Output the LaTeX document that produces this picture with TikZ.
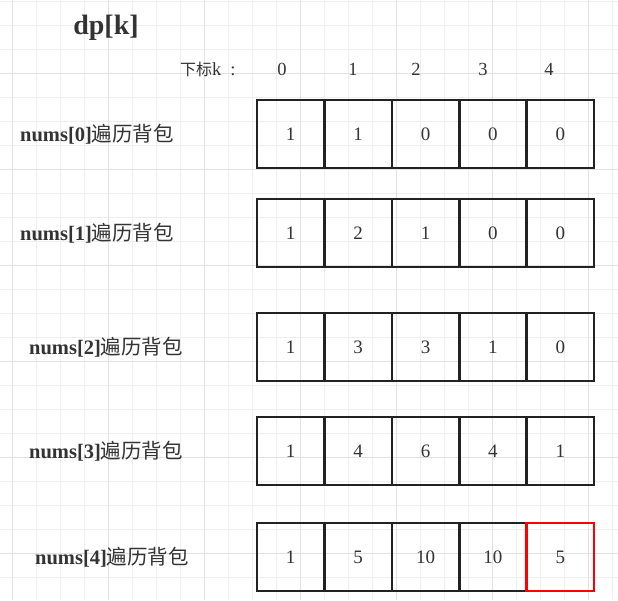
\documentclass[tikz,border=0pt]{standalone}
\usepackage{fontspec}
\setmainfont{Liberation Serif}
\newfontfamily\cjk{Noto Sans CJK SC}
\definecolor{txt}{HTML}{333333}
\definecolor{gridminor}{HTML}{EEEEEE}
\definecolor{gridmajor}{HTML}{E2E2E2}
\definecolor{cellline}{HTML}{222222}
\definecolor{hl}{HTML}{FF0000}
\tikzset{
  cellbox/.style={draw=cellline, line width=2.6pt, minimum width=67.4pt, minimum height=68pt,
    inner sep=0pt, outer sep=0pt, anchor=north west, text=txt, font=\fontsize{19}{21}\selectfont},
  hlbox/.style={cellbox, draw=hl},
  rowlabel/.style={anchor=west, inner sep=0pt, text=txt, font=\fontsize{20.5}{23}\selectfont},
  idxlabel/.style={inner sep=0pt, text=txt, font=\fontsize{18.5}{20}\selectfont},
}
\begin{document}
\begin{tikzpicture}[x=1pt,y=-1pt]
\useasboundingbox (0,0) rectangle (618,600);
\fill[white] (0,0) rectangle (618,600);
% grid
\foreach \gx in {12,36,...,612} \draw[gridminor, line width=1pt] (\gx,0) -- (\gx,600);
\foreach \gy in {1,25,...,600} \draw[gridminor, line width=1pt] (0,\gy) -- (618,\gy);
\foreach \gx in {12,108,...,612} \draw[gridmajor, line width=1pt] (\gx,0) -- (\gx,600);
\foreach \gy in {73,169,...,600} \draw[gridmajor, line width=1pt] (0,\gy) -- (618,\gy);
% title
\node[inner sep=0pt, text=txt, font=\fontsize{28}{30}\selectfont\bfseries] (title) at (106,28) {dp[k]};
% index header
\node[idxlabel, anchor=west] (hdr) at (180,69) {{\cjk\fontsize{16}{18}\selectfont 下标}k\hspace{9pt}:};
\node[idxlabel] (i0) at (282,69) {0};
\node[idxlabel] (i1) at (353,69) {1};
\node[idxlabel] (i2) at (416,69) {2};
\node[idxlabel] (i3) at (483,69) {3};
\node[idxlabel] (i4) at (549,69) {4};
% rows
\foreach \r/\top/\lx/\vals in {0/100/20/{1,1,0,0,0},1/199/20/{1,2,1,0,0},2/313/29/{1,3,3,1,0},3/417/29/{1,4,6,4,1}}{
  \node[rowlabel] (lab\r) at (\lx,\top+34) {\textbf{nums[\r]}{\cjk 遍历背包}};
  \foreach \v [count=\k from 0] in \vals {
    \node[cellbox] (c\r\k) at (257+67.4*\k,\top) {\v};
  }
}
\node[rowlabel] (lab4) at (35,557) {\textbf{nums[4]}{\cjk 遍历背包}};
\foreach \v [count=\k from 0] in {1,5,10,10} {
  \node[cellbox] (c4\k) at (257+67.4*\k,523) {\v};
}
\node[hlbox] (c44) at (257+67.4*4,523) {5};
\end{tikzpicture}
\end{document}
